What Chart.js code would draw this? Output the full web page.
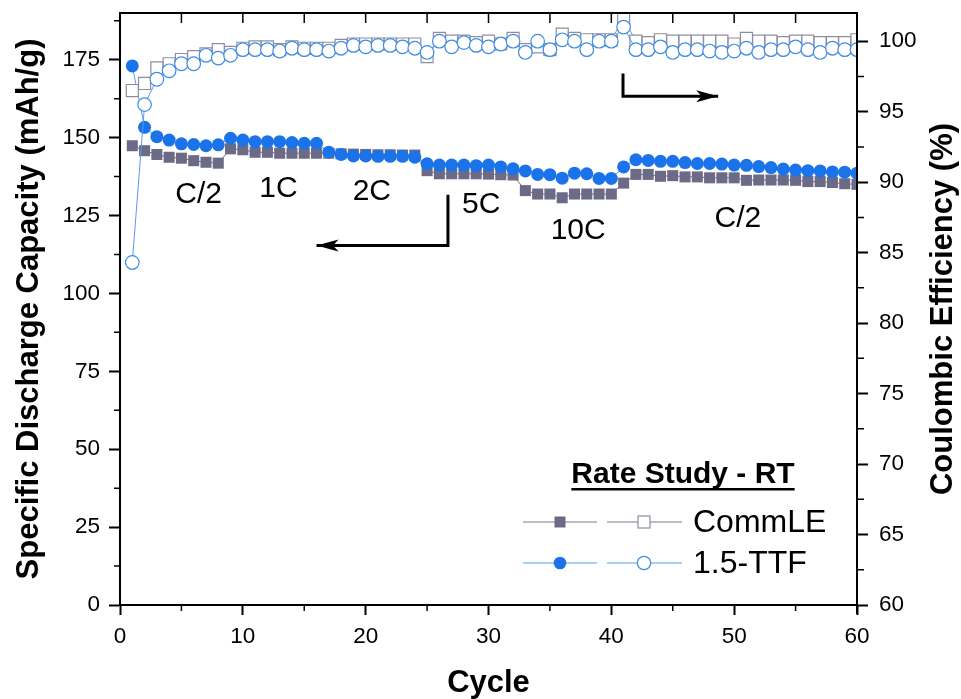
<!DOCTYPE html>
<html>
<head>
<meta charset="utf-8">
<script src="https://cdn.jsdelivr.net/npm/chart.js@4.4.1/dist/chart.umd.min.js"></script>
<style>
  html, body { margin: 0; padding: 0; background: #fff; }
</style>
</head>
<body>
<canvas id="rateChart" width="961" height="699"></canvas>
<script>
// Cycle numbers (x) and the four series
const cycles = [1, 2, 3, 4, 5, 6, 7, 8, 9, 10, 11, 12, 13, 14, 15, 16, 17, 18, 19, 20,
    21, 22, 23, 24, 25, 26, 27, 28, 29, 30, 31, 32, 33, 34, 35, 36, 37, 38, 39, 40,
    41, 42, 43, 44, 45, 46, 47, 48, 49, 50, 51, 52, 53, 54, 55, 56, 57, 58, 59, 60];

// Specific discharge capacity, mAh/g (left axis)
const commCapacity = [147.4, 145.8, 144.6, 143.7, 143.4, 142.6, 142.1, 141.8, 146.4, 146.1,
    145.3, 145.3, 145.0, 145.0, 145.0, 145.0, 145.0, 144.8, 144.7, 144.6,
    144.5, 144.5, 144.4, 144.4, 139.4, 138.4, 138.4, 138.4, 138.4, 138.3,
    138.1, 138.0, 133.0, 131.9, 131.9, 130.7, 131.9, 131.9, 131.9, 131.9,
    135.4, 138.2, 138.2, 137.6, 137.8, 137.4, 137.4, 137.1, 137.1, 137.1,
    136.3, 136.4, 136.4, 136.4, 136.3, 135.9, 135.9, 135.6, 135.2, 135.0];
const ttfCapacity = [173.0, 153.3, 150.3, 149.2, 148.0, 147.8, 147.4, 147.7, 149.8, 149.2,
    148.7, 148.7, 148.7, 148.4, 148.2, 148.2, 145.3, 144.6, 144.1, 144.1,
    144.0, 144.0, 144.0, 143.7, 141.6, 141.2, 141.2, 141.2, 141.0, 141.2,
    140.6, 140.0, 139.3, 138.2, 138.1, 137.0, 138.6, 138.4, 136.9, 136.9,
    140.6, 142.9, 142.7, 142.4, 142.4, 142.0, 141.7, 141.7, 141.5, 141.2,
    141.1, 140.7, 140.4, 139.9, 139.6, 139.4, 139.3, 139.0, 138.9, 138.6];

// Coulombic efficiency, % (right axis)
const commCE = [96.5, 97.0, 98.1, 98.4, 98.7, 98.9, 99.1, 99.4, 99.2, 99.5,
    99.6, 99.6, 99.4, 99.6, 99.5, 99.5, 99.5, 99.7, 99.8, 99.8,
    99.8, 99.8, 99.8, 99.8, 98.9, 100.2, 100.0, 100.0, 99.9, 100.0,
    99.8, 100.2, 99.4, 99.6, 99.4, 100.5, 100.2, 100.1, 100.1, 100.1,
    101.6, 100.0, 99.9, 100.1, 100.0, 100.0, 100.0, 100.0, 100.0, 99.8,
    100.2, 100.0, 100.0, 99.9, 100.0, 100.0, 99.9, 99.9, 99.9, 100.1];
const ttfCE = [84.3, 95.5, 97.3, 97.9, 98.4, 98.4, 99.0, 98.8, 99.0, 99.4,
    99.4, 99.4, 99.3, 99.5, 99.4, 99.4, 99.3, 99.5, 99.7, 99.6,
    99.7, 99.7, 99.6, 99.5, 99.2, 100.0, 99.6, 99.9, 99.7, 99.6,
    99.8, 100.0, 99.2, 100.0, 99.4, 100.1, 100.0, 99.4, 100.0, 100.0,
    101.0, 99.4, 99.4, 99.6, 99.2, 99.4, 99.4, 99.3, 99.2, 99.3,
    99.5, 99.2, 99.4, 99.4, 99.6, 99.4, 99.2, 99.5, 99.4, 99.4];

// ticks
const yMaxLabel = 175;
const y2MaxLabel = 100;
const xMinorTicks = [5, 15, 25, 35, 45, 55];
const xTopTicks = [5, 10, 15, 20, 25, 30, 35, 40, 45, 50, 55];
const yMinorTicks = [12.5, 37.5, 62.5, 87.5, 112.5, 137.5, 162.5, 187.5];
const y2MinorTicks = [62.5, 67.5, 72.5, 77.5, 82.5, 87.5, 92.5, 97.5];

// C-rate labels (cycle, capacity)
const rateLabels = ["C/2", "1C", "2C", "5C", "10C", "C/2"];
const rateLabelX = [6.4, 12.9, 20.5, 29.4, 37.3, 50.3];
const rateLabelY = [131.7, 133.7, 132.7, 128.5, 120.2, 124.0];

const FONT = "'Liberation Sans', Arial, sans-serif";
const GRAY = "#6b6b87";
const GRAY_OPEN = "#8e8ea3";
const BLUE = "#1a73e8";
const BLUE_OPEN = "#3d8be6";
const BLUE_LINE = "#5a9be8";

function toPoints(values) {
    return cycles.map((c, i) => ({ x: c, y: values[i] }));
}

function drawArrow(ctx, pts) {
    ctx.beginPath();
    ctx.moveTo(pts[0][0], pts[0][1]);
    for (let i = 1; i < pts.length; i++) ctx.lineTo(pts[i][0], pts[i][1]);
    ctx.stroke();
    // head at last point, pointing along last segment
    const [x1, y1] = pts[pts.length - 2];
    const [x2, y2] = pts[pts.length - 1];
    const ang = Math.atan2(y2 - y1, x2 - x1);
    const len = 22, half = 6;
    ctx.beginPath();
    ctx.moveTo(x2, y2);
    ctx.lineTo(x2 - len * Math.cos(ang) + half * Math.sin(ang), y2 - len * Math.sin(ang) - half * Math.cos(ang));
    ctx.lineTo(x2 - len * 0.75 * Math.cos(ang), y2 - len * 0.75 * Math.sin(ang));
    ctx.lineTo(x2 - len * Math.cos(ang) - half * Math.sin(ang), y2 - len * Math.sin(ang) + half * Math.cos(ang));
    ctx.closePath();
    ctx.fill();
}

// keep the plot box where it is in the original: no extra room for end labels
function fixVertical(width) {
    return s => {
        s.width = width;
        s.paddingTop = 0;
        s.paddingBottom = 0;
    };
}

const extras = {
    id: "extras",
    afterDraw(chart) {
        const { ctx, chartArea: a, scales: { x, y, y2 } } = chart;
        ctx.save();
        ctx.strokeStyle = "#000";
        ctx.fillStyle = "#000";

        // frame
        ctx.lineWidth = 2;
        ctx.strokeRect(a.left, a.top, a.right - a.left, a.bottom - a.top);
        ctx.beginPath();
        ctx.moveTo(a.right, a.bottom);
        ctx.lineTo(a.right, a.bottom + 9);
        ctx.stroke();

        // minor + mirrored ticks
        ctx.lineWidth = 1.5;
        ctx.beginPath();
        xMinorTicks.forEach(v => {
            const px = x.getPixelForValue(v);
            ctx.moveTo(px, a.bottom); ctx.lineTo(px, a.bottom + 6);
        });
        xTopTicks.forEach(v => {
            const px = x.getPixelForValue(v);
            ctx.moveTo(px, a.top); ctx.lineTo(px, a.top + 10);
        });
        yMinorTicks.forEach(v => {
            const py = y.getPixelForValue(v);
            ctx.moveTo(a.left, py); ctx.lineTo(a.left - 6, py);
        });
        y2MinorTicks.forEach(v => {
            const py = y2.getPixelForValue(v);
            ctx.moveTo(a.right, py); ctx.lineTo(a.right + 7, py);
        });
        ctx.stroke();

        // rate labels
        ctx.font = "30px " + FONT;
        ctx.textAlign = "center";
        ctx.textBaseline = "middle";
        rateLabels.forEach((t, i) => {
            ctx.fillText(t, x.getPixelForValue(rateLabelX[i]), y.getPixelForValue(rateLabelY[i]));
        });

        // arrows
        ctx.lineWidth = 3;
        drawArrow(ctx, [
            [x.getPixelForValue(26.7), y.getPixelForValue(131.7)],
            [x.getPixelForValue(26.7), y.getPixelForValue(115.4)],
            [x.getPixelForValue(16.0), y.getPixelForValue(115.4)]
        ]);
        drawArrow(ctx, [
            [x.getPixelForValue(40.95), y2.getPixelForValue(97.7)],
            [x.getPixelForValue(40.95), y2.getPixelForValue(96.1)],
            [x.getPixelForValue(48.7), y2.getPixelForValue(96.1)]
        ]);

        // right axis title (reads bottom to top)
        ctx.save();
        ctx.translate(943, (a.top + a.bottom) / 2);
        ctx.rotate(-Math.PI / 2);
        ctx.font = "bold 31px " + FONT;
        ctx.fillText("Coulombic Efficiency (%)", 0, 0);
        ctx.restore();

        // legend
        const lx = a.right - 334;
        ctx.font = "bold 30px " + FONT;
        ctx.textBaseline = "alphabetic";
        const title = "Rate Study - RT";
        const tw = ctx.measureText(title).width;
        const tcx = lx + 160;
        ctx.fillText(title, tcx, 483);
        ctx.fillRect(tcx - tw / 2, 488, tw, 2.5);

        const rows = [
            { yy: 522, line: "#7a7a94", label: "CommLE", shape: "rect", fill: GRAY, open: GRAY_OPEN },
            { yy: 563, line: BLUE_LINE, label: "1.5-TTF", shape: "circle", fill: BLUE, open: BLUE_OPEN }
        ];
        rows.forEach(r => {
            ctx.strokeStyle = r.line;
            ctx.lineWidth = 1.2;
            ctx.beginPath();
            ctx.moveTo(lx, r.yy); ctx.lineTo(lx + 74, r.yy);
            ctx.moveTo(lx + 84, r.yy); ctx.lineTo(lx + 159, r.yy);
            ctx.stroke();
            if (r.shape === "rect") {
                ctx.fillStyle = r.fill;
                ctx.fillRect(lx + 37 - 5.5, r.yy - 5.5, 11, 11);
                ctx.fillStyle = "#fff";
                ctx.fillRect(lx + 121 - 6, r.yy - 6, 12, 12);
                ctx.strokeStyle = r.open;
                ctx.lineWidth = 1.2;
                ctx.strokeRect(lx + 121 - 6, r.yy - 6, 12, 12);
            } else {
                ctx.fillStyle = r.fill;
                ctx.beginPath();
                ctx.arc(lx + 37, r.yy, 6.3, 0, Math.PI * 2);
                ctx.fill();
                ctx.fillStyle = "#fff";
                ctx.strokeStyle = r.open;
                ctx.lineWidth = 1.2;
                ctx.beginPath();
                ctx.arc(lx + 121, r.yy, 6.7, 0, Math.PI * 2);
                ctx.fill();
                ctx.stroke();
            }
            ctx.fillStyle = "#000";
            ctx.font = "32px " + FONT;
            ctx.textAlign = "left";
            ctx.textBaseline = "middle";
            ctx.fillText(r.label, lx + 170, r.yy + 1);
            ctx.textAlign = "center";
            ctx.textBaseline = "alphabetic";
        });

        ctx.restore();
    }
};

const tickFont = { family: FONT, size: 22.5 };

new Chart(document.getElementById("rateChart"), {
    type: "line",
    data: {
        datasets: [
            {
                label: "1.5-TTF CE",
                data: toPoints(ttfCE),
                yAxisID: "y2",
                borderColor: BLUE_LINE,
                borderWidth: 1,
                pointStyle: "circle",
                pointRadius: 6.8,
                pointBackgroundColor: "#fff",
                pointBorderColor: BLUE_OPEN,
                pointBorderWidth: 1.2
            },
            {
                label: "CommLE CE",
                data: toPoints(commCE),
                yAxisID: "y2",
                borderColor: GRAY_OPEN,
                borderWidth: 1,
                pointStyle: "rect",
                pointRadius: 8.5,
                pointBackgroundColor: "#fff",
                pointBorderColor: GRAY_OPEN,
                pointBorderWidth: 1.2
            },
            {
                label: "1.5-TTF",
                data: toPoints(ttfCapacity),
                yAxisID: "y",
                borderColor: BLUE_LINE,
                borderWidth: 1,
                pointStyle: "circle",
                pointRadius: 6.5,
                pointBackgroundColor: BLUE,
                pointBorderColor: BLUE,
                pointBorderWidth: 0
            },
            {
                label: "CommLE",
                data: toPoints(commCapacity),
                yAxisID: "y",
                borderColor: GRAY,
                borderWidth: 1,
                pointStyle: "rect",
                pointRadius: 7.8,
                pointBackgroundColor: GRAY,
                pointBorderColor: GRAY,
                pointBorderWidth: 0
            }
        ]
    },
    options: {
        responsive: false,
        animation: false,
        layout: { padding: { top: 13, left: 0, right: 0, bottom: 0 } },
        plugins: {
            legend: { display: false },
            tooltip: { enabled: false }
        },
        scales: {
            x: {
                type: "linear",
                min: 0,
                max: 60,
                afterFit(s) { s.height = 94; },
                ticks: { stepSize: 10, color: "#000", font: tickFont, padding: 8, maxRotation: 0 },
                grid: { drawOnChartArea: false, tickLength: 10, tickColor: "#000", tickWidth: 2 },
                border: { color: "#000", width: 2 },
                title: {
                    display: true,
                    text: "Cycle",
                    color: "#000",
                    font: { family: FONT, size: 31, weight: "bold", lineHeight: 1.0 },
                    padding: { top: 0, bottom: 0 }
                }
            },
            y: {
                position: "left",
                min: 0,
                max: 190,
                bounds: "data",
                afterFit: fixVertical(120),
                afterBuildTicks(s) { s.ticks = s.ticks.filter(t => t.value <= yMaxLabel); },
                ticks: { stepSize: 25, color: "#000", font: tickFont, padding: 9 },
                grid: { drawOnChartArea: false, tickLength: 11, tickColor: "#000", tickWidth: 2 },
                border: { color: "#000", width: 2 },
                title: {
                    display: true,
                    text: "Specific Discharge Capacity (mAh/g)",
                    color: "#000",
                    font: { family: FONT, size: 31, weight: "bold", lineHeight: 1.2 },
                    padding: { top: 11, bottom: 0 }
                }
            },
            y2: {
                position: "right",
                min: 60,
                max: 102,
                bounds: "data",
                afterFit: fixVertical(104),
                afterBuildTicks(s) { s.ticks = s.ticks.filter(t => t.value <= y2MaxLabel); },
                ticks: { stepSize: 5, color: "#000", font: tickFont, padding: 11 },
                grid: { drawOnChartArea: false, tickLength: 11, tickColor: "#000", tickWidth: 2 },
                border: { color: "#000", width: 2 }
            }
        }
    },
    plugins: [extras]
});
</script>
</body>
</html>
